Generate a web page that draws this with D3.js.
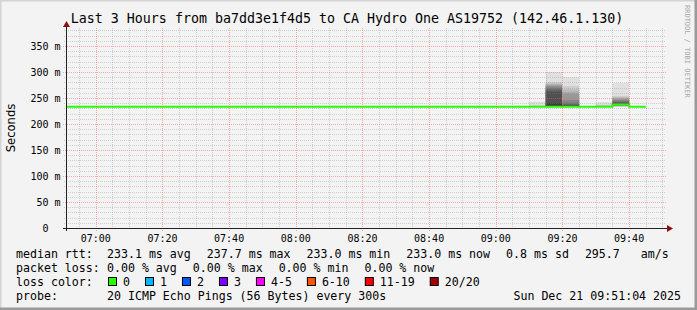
<!DOCTYPE html>
<html>
<head>
<meta charset="utf-8">
<script src="https://cdn.jsdelivr.net/npm/d3@7"></script>
<style>
body { margin: 0; background: #f3f3f3; }
svg text { font-family: "DejaVu Sans Mono", monospace; white-space: pre; fill: #000; }
</style>
</head>
<body>
<svg id="chart" width="697" height="310"></svg>
<script>
// ---- chart data ----
var title = "Last 3 Hours from ba7dd3e1f4d5 to CA Hydro One AS19752 (142.46.1.130)";
var startTime = "2025-12-21 06:51:04";
var endTime = "2025-12-21 09:51:04";
var stepSeconds = 300;

// end time of each 5 min sample
var sampleTimes = ["06:55","07:00","07:05","07:10","07:15","07:20","07:25","07:30","07:35","07:40",
	"07:45","07:50","07:55","08:00","08:05","08:10","08:15","08:20","08:25","08:30",
	"08:35","08:40","08:45","08:50","08:55","09:00","09:05","09:10","09:15","09:20",
	"09:25","09:30","09:35","09:40","09:45"];
// median rtt in ms
var medianRtt = [233.0,233.0,233.0,233.0,233.0,233.0,233.0,233.0,233.0,233.0,
	233.0,233.0,233.0,233.0,233.0,233.0,233.0,233.0,233.0,233.0,
	233.0,233.0,233.0,233.0,233.0,233.0,233.0,233.0,233.1,233.2,
	233.1,233.0,233.2,237.7,233.0];

// samples with visible smoke, 20 sorted pings each (ms)
var smokeTimes = ["09:15","09:20","09:25","09:35","09:40"];
var smokePings = [
	[232.8,232.9,232.9,233.0,233.0,233.0,233.0,233.1,233.1,233.1,233.1,233.2,233.2,233.3,233.4,233.5,233.8,234.5,236.0,243.0],
	[232.7,232.8,232.9,233.0,233.0,233.1,233.1,233.2,233.2,233.3,240.0,262.0,266.0,269.0,272.0,274.0,276.0,278.0,281.0,300.0],
	[232.8,232.9,233.0,233.0,233.1,233.1,233.2,233.3,233.5,234.0,235.0,236.0,238.0,241.0,246.0,258.0,262.0,267.0,273.0,290.0],
	[232.9,233.0,233.0,233.0,233.1,233.1,233.1,233.2,233.2,233.2,233.3,233.3,233.4,233.5,233.7,234.0,234.6,235.5,237.0,242.0],
	[233.2,233.6,234.0,234.6,235.0,235.5,236.0,236.5,237.0,237.5,239.0,240.0,242.0,244.0,246.0,248.0,250.0,252.0,254.0,279.0]
];

var yTicks = [0, 50, 100, 150, 200, 250, 300, 350];
var yTickLabels = ["0  ", "50 m", "100 m", "150 m", "200 m", "250 m", "300 m", "350 m"];
var xTicks = ["07:00","07:20","07:40","08:00","08:20","08:40","09:00","09:20","09:40"];

var rttStats = ["233.1 ms avg", "237.7 ms max", "233.0 ms min", "233.0 ms now", "0.8 ms sd", "295.7   am/s"];
var lossStats = ["0.00 % avg", "0.00 % max", "0.00 % min", "0.00 % now"];
var lossLabels = ["0", "1", "2", "3", "4-5", "6-10", "11-19", "20/20"];
var lossColors = ["#26ff00", "#00b8ff", "#0059ff", "#7e00ff", "#ff00ff", "#ff5500", "#ff0000", "#a10000"];
var probeText = "20 ICMP Echo Pings (56 Bytes) every 300s";
var stampText = "Sun Dec 21 09:51:04 2025";

// ---- drawing ----
(function () {
	var W = 697, H = 310;
	var pLeft = 66, pRight = 666, pTop = 28, pBottom = 228;
	var parseFull = d3.timeParse("%Y-%m-%d %H:%M:%S");
	var parseHM = function (s) { return parseFull("2025-12-21 " + s + ":00"); };

	var x = d3.scaleTime().domain([parseFull(startTime), parseFull(endTime)]).range([pLeft, pRight]);
	var y = d3.scaleLinear().domain([0, 384.6]).range([pBottom, pTop]);

	var svg = d3.select("#chart");

	// background + 3d border like rrdtool
	svg.append("rect").attr("width", W).attr("height", H).attr("fill", "#f3f3f3");
	svg.append("path").attr("d", "M0," + H + "V0H" + W).attr("fill", "none")
		.attr("stroke", "#d4d4d4").attr("stroke-width", 3);
	svg.append("path").attr("d", "M0," + H + "H" + W + "V0").attr("fill", "none")
		.attr("stroke", "#9a9a9a").attr("stroke-width", 5);

	svg.append("clipPath").attr("id", "plotClip").append("rect")
		.attr("x", pLeft).attr("y", pTop).attr("width", pRight - pLeft).attr("height", pBottom - pTop);
	var plot = svg.append("g").attr("clip-path", "url(#plotClip)");

	// smoke: pair i spans ping[i] .. ping[19-i], inner pairs darker
	var half = 10;
	smokeTimes.forEach(function (t, k) {
		var tEnd = parseHM(t);
		var tStart = new Date(tEnd.getTime() - stepSeconds * 1000);
		var pings = smokePings[k];
		for (var i = 0; i < half; i++) {
			var c = Math.floor(180 / half * (half - i - 1)) + 62;
			var lo = pings[i], hi = pings[pings.length - 1 - i];
			plot.append("rect")
				.attr("x", x(tStart)).attr("width", x(tEnd) - x(tStart))
				.attr("y", y(hi)).attr("height", y(lo) - y(hi))
				.attr("fill", d3.rgb(c, c, c));
		}
	});

	// grid
	var minorC = "rgba(128,128,128,0.32)", majorC = "rgba(255,90,90,0.5)";
	var grid = svg.append("g").attr("fill", "none").attr("stroke-width", 1).attr("stroke-dasharray", "1,1");
	d3.range(10, 384, 10).forEach(function (v) {
		if (v % 50 === 0) return;
		var yy = Math.round(y(v)) + 0.5;
		grid.append("line").attr("x1", pLeft - 2).attr("x2", pRight).attr("y1", yy).attr("y2", yy).attr("stroke", minorC);
	});
	d3.timeMinute.every(5).range(x.domain()[0], x.domain()[1]).forEach(function (t) {
		if (t.getMinutes() % 20 === 0) return;
		var xx = Math.round(x(t)) + 0.5;
		grid.append("line").attr("y1", pTop).attr("y2", pBottom + 2).attr("x1", xx).attr("x2", xx).attr("stroke", minorC);
	});
	yTicks.forEach(function (v) {
		if (v === 0) return;
		var yy = Math.round(y(v)) + 0.5;
		grid.append("line").attr("x1", pLeft - 3).attr("x2", pRight).attr("y1", yy).attr("y2", yy).attr("stroke", majorC);
	});
	xTicks.forEach(function (s) {
		var xx = Math.round(x(parseHM(s))) + 0.5;
		grid.append("line").attr("y1", pTop).attr("y2", pBottom + 3).attr("x1", xx).attr("x2", xx).attr("stroke", majorC);
	});

	// median line (step per sample)
	var pts = [];
	pts.push([new Date(parseHM(sampleTimes[0]).getTime() - stepSeconds * 1000), medianRtt[0]]);
	sampleTimes.forEach(function (s, i) { pts.push([parseHM(s), medianRtt[i]]); });
	plot.append("path").datum(pts)
		.attr("fill", "none").attr("stroke", lossColors[0]).attr("stroke-width", 2)
		.attr("d", d3.line().curve(d3.curveStepBefore)
			.x(function (d) { return x(d[0]); })
			.y(function (d) { return y(d[1]); }));

	// axes
	svg.append("line").attr("x1", pLeft - 3).attr("x2", pRight + 2).attr("y1", pBottom + 0.5).attr("y2", pBottom + 0.5)
		.attr("stroke", "#202020");
	svg.append("line").attr("x1", pLeft + 0.5).attr("x2", pLeft + 0.5).attr("y1", pBottom + 3).attr("y2", pTop - 2)
		.attr("stroke", "#202020");
	svg.append("path").attr("d", "M" + (pRight + 7) + "," + (pBottom + 0.5) + "l-6,-3.5v7z").attr("fill", "#8b1010");
	svg.append("path").attr("d", "M" + (pLeft + 0.5) + "," + (pTop - 7) + "l-3.5,6h7z").attr("fill", "#8b1010");

	// tick labels
	svg.append("g").selectAll("text").data(yTicks).join("text")
		.attr("x", 60.5).attr("y", function (d) { return y(d) + 3.7; })
		.attr("text-anchor", "end").attr("font-size", "10px")
		.text(function (d, i) { return yTickLabels[i]; });
	svg.append("g").selectAll("text").data(xTicks).join("text")
		.attr("x", function (d) { return x(parseHM(d)); }).attr("y", 242)
		.attr("text-anchor", "middle").attr("font-size", "10px")
		.text(function (d) { return d; });

	// title, unit, watermark
	svg.append("text").attr("x", 347).attr("y", 23).attr("text-anchor", "middle")
		.attr("font-size", "13.3px").text(title);
	svg.append("text").attr("transform", "translate(15,128) rotate(-90)").attr("text-anchor", "middle")
		.style("font-family", "'DejaVu Sans', sans-serif").attr("font-size", "11.6px").text("Seconds");
	svg.append("text").attr("transform", "translate(684.5,5) rotate(90)")
		.attr("font-size", "7px").style("fill", "#a8a8a8").text("RRDTOOL / TOBI OETIKER");

	// legend
	var rows = [258, 272, 286, 299.5];
	var leg = svg.append("g").attr("font-size", "11.6px");
	function row(yy, label, items) {
		leg.append("text").attr("x", 16).attr("y", yy).text(label);
		var cx = 107;
		items.forEach(function (s) {
			var t = leg.append("text").attr("x", cx).attr("y", yy).text(s);
			cx += t.node().getComputedTextLength() + 16;
		});
	}
	row(rows[0], "median rtt:", rttStats);
	row(rows[1], "packet loss:", lossStats);

	leg.append("text").attr("x", 16).attr("y", rows[2]).text("loss color:");
	var bx = 108;
	lossLabels.forEach(function (s, i) {
		leg.append("rect").attr("x", bx + 0.5).attr("y", rows[2] - 8.5).attr("width", 8).attr("height", 8)
			.attr("fill", lossColors[i]).attr("stroke", "#000");
		var t = leg.append("text").attr("x", bx + 15).attr("y", rows[2]).text(s);
		bx += 15 + t.node().getComputedTextLength() + 15;
	});

	leg.append("text").attr("x", 16).attr("y", rows[3]).text("probe:");
	leg.append("text").attr("x", 107).attr("y", rows[3]).text(probeText);
	leg.append("text").attr("x", 681).attr("y", rows[3]).attr("text-anchor", "end").text(stampText);
})();
</script>
</body>
</html>
